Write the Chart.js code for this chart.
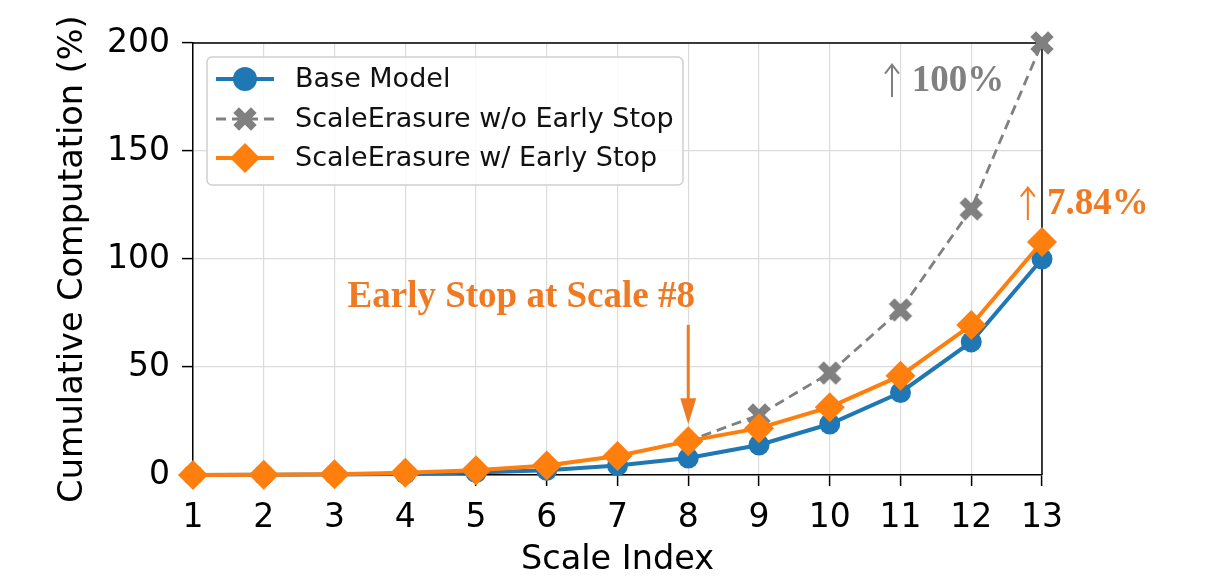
<!DOCTYPE html>
<html>
<head>
<meta charset="utf-8">
<script src="https://cdn.jsdelivr.net/npm/chart.js@4.4.1/dist/chart.umd.min.js"></script>
<style>
  html,body{margin:0;padding:0;background:#fff}
  #wrap{width:1210px;height:583px;position:relative}
</style>
</head>
<body>
<div id="wrap"><canvas id="chart"></canvas></div>
<script>
// data
const scaleIdx = [1,2,3,4,5,6,7,8,9,10,11,12,13];
const baseModel = [0.02,0.07,0.2,0.5,1.1,2.2,4.4,7.84,13.9,23.6,38.2,61.6,100];
const noEarlyStop = [0.04,0.14,0.4,1.0,2.2,4.4,8.8,15.68,27.8,47.2,76.4,123.2,200];
const withEarlyStop = [0.04,0.14,0.4,1.0,2.2,4.4,8.8,15.68,21.7,31.4,46.0,69.4,107.84];
const seriesNames = ['Base Model','ScaleErasure w/o Early Stop','ScaleErasure w/ Early Stop'];
const yTicks = [0,50,100,150,200];
const stopAt = 8;

const BLUE='#1f77b4', ORANGE='#ff7f0e', GRAY='#808080', NOTE='#f07a22';

// filled "X" marker like matplotlib's 'X'
function xMark(color){
  const s=30, c=document.createElement('canvas');
  c.width=s; c.height=s;
  const g=c.getContext('2d');
  g.fillStyle=color; g.translate(s/2,s/2); g.rotate(Math.PI/4);
  const a=12.5, w=8;
  g.fillRect(-a,-w/2,2*a,w); g.fillRect(-w/2,-a,w,2*a);
  return c;
}
const grayX = xMark(GRAY);

const pts = arr => arr.map((v,i)=>({x:scaleIdx[i], y:v}));

const frame = {
  id:'frame',
  beforeDatasetsDraw(chart){
    const {ctx, chartArea:a}=chart;
    ctx.save(); ctx.strokeStyle='#000'; ctx.lineWidth=1.5;
    ctx.beginPath(); ctx.moveTo(a.left,a.top); ctx.lineTo(a.right,a.top); ctx.lineTo(a.right,a.bottom); ctx.stroke();
    ctx.restore();
  }
};

// thin "↑" like the serif glyph: shaft + open chevron
function upArrow(ctx, x, yTop, yBot, color){
  ctx.save();
  ctx.strokeStyle=color; ctx.lineWidth=2;
  ctx.beginPath(); ctx.moveTo(x,yBot); ctx.lineTo(x,yTop+1); ctx.stroke();
  ctx.beginPath(); ctx.moveTo(x-7,yTop+9); ctx.lineTo(x,yTop); ctx.lineTo(x+7,yTop+9); ctx.stroke();
  ctx.restore();
}

const notes = {
  id:'notes',
  afterDatasetsDraw(chart){
    const {ctx}=chart, xs=chart.scales.x, ys=chart.scales.y;
    ctx.save();
    // early stop text + arrow
    ctx.fillStyle=NOTE; ctx.strokeStyle=NOTE;
    ctx.font='bold 37px "Liberation Serif", "Times New Roman", serif';
    ctx.textAlign='center'; ctx.textBaseline='alphabetic';
    ctx.fillText('Early Stop at Scale #8', xs.getPixelForValue(5.64), ys.getPixelForValue(78));
    const ax=xs.getPixelForValue(stopAt), y0=ys.getPixelForValue(69.5), y1=ys.getPixelForValue(23.5);
    ctx.lineWidth=3;
    ctx.beginPath(); ctx.moveTo(ax,y0); ctx.lineTo(ax,y1-24); ctx.stroke();
    ctx.beginPath(); ctx.moveTo(ax-8,y1-26); ctx.lineTo(ax+8,y1-26); ctx.lineTo(ax,y1); ctx.closePath(); ctx.fill();
    // growth labels
    ctx.textAlign='left';
    upArrow(ctx, xs.getPixelForValue(10.88), ys.getPixelForValue(190), ys.getPixelForValue(175), GRAY);
    ctx.fillStyle=GRAY;
    ctx.font='bold 37px "Liberation Serif", serif';
    ctx.fillText('100%', xs.getPixelForValue(11.16), ys.getPixelForValue(178));
    upArrow(ctx, xs.getPixelForValue(12.80), ys.getPixelForValue(133), ys.getPixelForValue(118), NOTE);
    ctx.fillStyle=NOTE;
    ctx.fillText('7.84%', xs.getPixelForValue(13.07), ys.getPixelForValue(121));
    ctx.restore();
  }
};

const legendBox = {
  id:'legendBox',
  afterDraw(chart){
    const {ctx, chartArea:a}=chart;
    const L=a.left+14, T=a.top+14, W=476, H=128;
    ctx.save();
    ctx.fillStyle='rgba(255,255,255,0.85)'; ctx.strokeStyle='#cfcfcf'; ctx.lineWidth=1.5;
    ctx.beginPath(); ctx.roundRect(L,T,W,H,5); ctx.fill(); ctx.stroke();
    const rows=[T+22, T+62, T+101];
    const x0=L+9, x1=L+67, mx=L+38;
    chart.data.datasets.forEach((ds,i)=>{
      const y=rows[i];
      ctx.strokeStyle=ds.borderColor; ctx.lineWidth=ds.borderWidth;
      ctx.setLineDash(ds.borderDash||[]);
      ctx.beginPath(); ctx.moveTo(x0,y); ctx.lineTo(x1,y); ctx.stroke();
      ctx.setLineDash([]);
      ctx.fillStyle=ds.borderColor;
      if(i===0){ ctx.beginPath(); ctx.arc(mx,y,12,0,Math.PI*2); ctx.fill(); }
      else if(i===1){ ctx.drawImage(grayX, mx-15, y-15); }
      else { ctx.beginPath(); ctx.moveTo(mx,y-15); ctx.lineTo(mx+15,y); ctx.lineTo(mx,y+15); ctx.lineTo(mx-15,y); ctx.closePath(); ctx.fill(); }
      ctx.fillStyle='#111'; ctx.font='27px "DejaVu Sans", sans-serif';
      ctx.textAlign='left'; ctx.textBaseline='middle';
      ctx.fillText(ds.label, L+88, y+1);
    });
    ctx.restore();
  }
};

const tickFont={family:'"DejaVu Sans", sans-serif', size:33};
const titleFont={family:'"DejaVu Sans", sans-serif', size:33.5};

new Chart(document.getElementById('chart'), {
  type:'line',
  data:{
    datasets:[
      {label:seriesNames[0], data:pts(baseModel), borderColor:BLUE, backgroundColor:BLUE, borderWidth:4,
       pointStyle:'circle', pointRadius:10.5, pointBackgroundColor:BLUE, pointBorderColor:BLUE, pointBorderWidth:0,
       clip:false, order:3},
      {label:seriesNames[1], data:pts(noEarlyStop), borderColor:GRAY, backgroundColor:GRAY, borderWidth:2.8, borderDash:[10,6],
       pointStyle:grayX, pointRadius:scaleIdx.map(s=>s<=stopAt?0:12), pointBorderWidth:0,
       clip:false, order:2},
      {label:seriesNames[2], data:pts(withEarlyStop), borderColor:ORANGE, backgroundColor:ORANGE, borderWidth:4,
       pointStyle:'rectRot', pointRadius:15, pointBackgroundColor:ORANGE, pointBorderColor:ORANGE, pointBorderWidth:0,
       clip:false, order:1}
    ]
  },
  options:{
    responsive:true, maintainAspectRatio:false, animation:false,
    layout:{padding:{top:43,right:168,left:0,bottom:0}},
    plugins:{legend:{display:false}, tooltip:{enabled:false}},
    scales:{
      x:{type:'linear', min:1, max:13,
         ticks:{stepSize:1, color:'#000', font:tickFont, padding:13},
         grid:{color:'#dcdcdc', lineWidth:1.2, tickColor:'#000', tickLength:11, tickWidth:1.5},
         border:{color:'#000', width:1.5},
         title:{display:true, text:'Scale Index', color:'#000', font:titleFont, padding:{top:0,bottom:3}},
         afterFit(s){ s.height=108; }},
      y:{min:0, max:200,
         afterBuildTicks(s){ s.ticks=yTicks.map(v=>({value:v})); },
         ticks:{color:'#000', font:tickFont, padding:12},
         grid:{color:'#dcdcdc', lineWidth:1.2, tickColor:'#000', tickLength:11, tickWidth:1.5},
         border:{color:'#000', width:1.5},
         title:{display:true, text:'Cumulative Computation (%)', color:'#000', font:titleFont, padding:{top:53,bottom:0}},
         afterFit(s){ s.width=193; }}
    }
  },
  plugins:[frame, notes, legendBox]
});
</script>
</body>
</html>
